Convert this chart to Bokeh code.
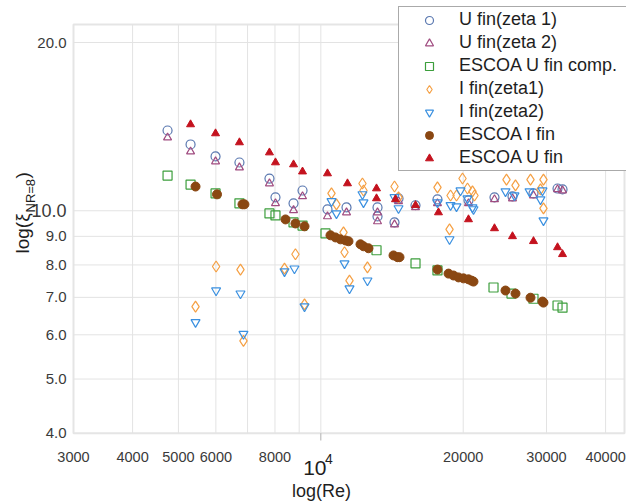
import math
from bokeh.plotting import figure
from bokeh.models import Range1d, Legend, LegendItem, Label, BoxAnnotation
from bokeh.core.properties import value
from bokeh.embed import file_html
from bokeh.resources import INLINE

# ---------------- data ----------------
# U fin(zeta 1)
re_u1 = [4742, 5304, 5990, 6729, 7788, 8019, 8756, 9148, 10330, 11332, 13178, 13178,
         14315, 14597, 15856, 17645, 20521, 23290, 25423, 28159, 31656, 32434]
xi_u1 = [13.92, 13.14, 12.51, 12.20, 11.42, 10.57, 10.31, 10.87, 10.06, 10.14, 10.14, 9.77,
         9.53, 10.52, 10.23, 10.48, 10.44, 10.57, 10.61, 10.74, 10.96, 10.92]
# U fin(zeta 2)
re_u2 = [4742, 5304, 5990, 6729, 7788, 8019, 8756, 9148, 10330, 11332, 13178, 13178,
         14315, 14597, 15856, 17645, 20521, 23290, 25423, 28159, 31656, 32434]
xi_u2 = [13.52, 12.76, 12.25, 11.95, 11.19, 10.31, 10.02, 10.61, 9.77, 9.93, 9.93, 9.57,
         9.45, 10.40, 10.14, 10.31, 10.31, 10.48, 10.52, 10.65, 10.92, 10.87]
# ESCOA U fin comp.
re_uc = [4742, 5304, 5990, 6729, 7788, 8019, 8756, 9148, 10230, 13114, 15856, 17645,
         23179, 25299, 28159, 31656, 32434]
xi_uc = [11.56, 11.14, 10.74, 10.31, 9.89, 9.81, 9.53, 9.41, 9.11, 8.50, 8.05, 7.82,
         7.29, 7.11, 6.96, 6.77, 6.71]
# I fin(zeta1)
re_i1 = [5434, 6006, 6763, 6862, 8379, 8838, 9237, 10533, 10791, 11168, 11222, 11498,
         12247, 12308, 12549, 14315, 14597, 17645, 18712, 18804, 19358, 19932, 20423,
         20924, 21130, 24691, 25797, 27752, 29561, 29134, 29561]
xi_i1 = [6.74, 7.95, 7.85, 5.85, 7.88, 8.36, 6.80, 10.74, 10.27, 9.15, 8.43, 7.50,
         11.19, 10.87, 7.92, 11.05, 10.57, 11.01, 9.26, 10.65, 10.65, 11.42, 10.96,
         10.83, 10.65, 11.37, 11.10, 11.37, 11.37, 10.92, 10.10]
# I fin(zeta2)
re_i2 = [5434, 6006, 6763, 6862, 8379, 8795, 9237, 10533, 10791, 11222, 11498, 12247,
         12308, 12549, 14315, 14597, 17645, 18712, 18804, 19358, 19738, 20423, 20924,
         21027, 24571, 25670, 27617, 29134, 29420, 29561]
xi_i2 = [6.32, 7.20, 7.11, 6.02, 7.79, 7.88, 6.74, 10.40, 9.89, 8.05, 7.26, 10.70,
         10.35, 7.50, 10.57, 10.10, 10.35, 8.89, 10.23, 10.18, 10.87, 10.52, 10.14,
         10.06, 10.83, 10.65, 10.83, 10.48, 10.87, 9.61]
# ESCOA I fin
re_ei = [5434, 6033, 6829, 6895, 8420, 8838, 9237, 10482, 10739, 11005, 11277, 11442,
         12130, 12308, 12611, 14245, 14526, 14667, 17645, 18621, 19078, 19548, 20028,
         20521, 20824, 21027, 24571, 25797, 27752, 29420, 29561]
xi_ei = [11.05, 10.70, 10.27, 10.27, 9.65, 9.49, 9.38, 9.04, 8.96, 8.89, 8.85, 8.82,
         8.71, 8.64, 8.57, 8.32, 8.26, 8.26, 7.85, 7.72, 7.66, 7.60, 7.57,
         7.54, 7.50, 7.47, 7.20, 7.11, 6.99, 6.88, 6.85]
# ESCOA U fin
re_eu = [5304, 5990, 6729, 7788, 8019, 8756, 9148, 10330, 11386, 13114, 13114, 14384,
         15856, 17731, 20521, 23290, 25423, 28159, 31656, 32434]
xi_eu = [14.27, 13.75, 13.25, 12.71, 12.20, 12.10, 11.75, 11.66, 11.19, 10.96, 10.52, 10.48,
         10.23, 9.93, 9.65, 9.30, 9.00, 8.82, 8.60, 8.36]

x_tick_vals = [3000, 4000, 5000, 6000, 8000, 20000, 30000, 40000]
x_tick_text = ["3000", "4000", "5000", "6000", "8000", "20000", "30000", "40000"]
x_decade = 10000
y_tick_vals = [4, 5, 6, 7, 8, 9, 20]
y_tick_text = ["4.0", "5.0", "6.0", "7.0", "8.0", "9.0", "20.0"]
y_decade = 10
x_grid = [4000, 5000, 6000, 7000, 8000, 9000, 10000, 20000, 30000, 40000]
y_grid = [5, 6, 7, 8, 9, 10, 20]

# ---------------- layout (pixels of the 626x504 canvas) ----------------
W, H = 626, 504
FL, FR, FT, FB = 73, 624, 24, 433          # visible plot box
X0, Y0, Y1 = 3000.0, 4.0, 20.0            # x at FL, y at FB, y of the top grid line
PX_DEC_X = 473.0                          # pixels per decade (x)
PY_20, PX_DEC_Y = 42.0, 559.0             # pixel row of y = 20, pixels per decade (y)

def xdat(px):
    return X0 * 10 ** ((px - FL) / PX_DEC_X)

def ydat(py):
    return Y1 * 10 ** (-(py - PY_20) / PX_DEC_Y)

X_END = xdat(FR)
Y_TOP = ydat(FT)

FONT = "Liberation Sans"
TICK_COL = "#3a3a3a"
TITLE_COL = "#1e1e1e"

p = figure(width=W, height=H, x_axis_type="log", y_axis_type="log",
           x_range=Range1d(xdat(0), xdat(W)), y_range=Range1d(ydat(H), ydat(0)),
           x_axis_location=None, y_axis_location=None,
           output_backend="svg", toolbar_location=None, min_border=0)
p.outline_line_color = None
p.grid.visible = False
p.background_fill_color = "white"

# grid lines inside the plot box
p.segment(x0=x_grid, y0=[Y0] * len(x_grid), x1=x_grid, y1=[Y_TOP] * len(x_grid),
          line_color="#e3e3e3", line_width=1)
p.segment(x0=[X0] * len(y_grid), y0=y_grid, x1=[X_END] * len(y_grid), y1=y_grid,
          line_color="#e3e3e3", line_width=1)
# little tick under the decade
p.segment(x0=[x_decade], y0=[Y0], x1=[x_decade], y1=[ydat(FB + 7)],
          line_color="#b0b0b0", line_width=1)

# plot box outline
p.add_layout(BoxAnnotation(left=X0, right=X_END, bottom=Y0, top=Y_TOP,
                           fill_alpha=0, line_color="#a8a8a8", line_width=2,
                           level="underlay"))

# ---------------- data marks ----------------
C_U1, C_U2, C_UC, C_I1, C_I2, C_EI, C_EU = ("#5a78b0", "#a04c80", "#3c9e3c", "#f5a044",
                                            "#3a90e0", "#8a4712", "#c4121e")
r_u1 = p.scatter(re_u1, xi_u1, marker="circle", size=9, fill_color=None,
                 line_color=C_U1, line_width=1.2)
r_u2 = p.scatter(re_u2, xi_u2, marker="triangle", size=8, fill_color=None,
                 line_color=C_U2, line_width=1.2)
r_uc = p.scatter(re_uc, xi_uc, marker="square", size=9, fill_color=None,
                 line_color=C_UC, line_width=1.2)
r_i1 = p.scatter(re_i1, xi_i1, marker="diamond", size=11, fill_color=None,
                 line_color=C_I1, line_width=1.2)
r_i2 = p.scatter(re_i2, xi_i2, marker="inverted_triangle", size=9, fill_color=None,
                 line_color=C_I2, line_width=1.2)
r_ei = p.scatter(re_ei, xi_ei, marker="circle", size=9, fill_color=C_EI,
                 line_color=C_EI, line_width=1)
r_eu = p.scatter(re_eu, xi_eu, marker="triangle", size=8, fill_color=C_EU,
                 line_color=C_EU, line_width=1)

# ---------------- tick labels ----------------
p.text(x=x_tick_vals, y=[Y0] * len(x_tick_vals), text=x_tick_text, y_offset=24,
       text_font=value(FONT), text_font_size="14.5px", text_color=TICK_COL,
       text_align="center", text_baseline="middle")
p.text(x=[x_decade], y=[Y0], text=["10"], x_offset=-6, y_offset=35,
       text_font=value(FONT), text_font_size="21px", text_color=TITLE_COL,
       text_align="center", text_baseline="middle")
p.text(x=[x_decade], y=[Y0], text=["4"], x_offset=8, y_offset=26,
       text_font=value(FONT), text_font_size="14px", text_color=TITLE_COL,
       text_align="center", text_baseline="middle")
p.text(x=[X0] * len(y_tick_vals), y=y_tick_vals, text=y_tick_text, x_offset=-7,
       text_font=value(FONT), text_font_size="15px", text_color=TICK_COL,
       text_align="right", text_baseline="middle")
p.text(x=[X0], y=[y_decade], text=["10.0"], x_offset=-7,
       text_font=value(FONT), text_font_size="18px", text_color=TICK_COL,
       text_align="right", text_baseline="middle")

# ---------------- axis titles ----------------
def lab(text, sx, sy, size, align="center", angle=0.0):
    p.add_layout(Label(x=sx, y=H - sy, x_units="screen", y_units="screen", text=text,
                       text_font=FONT, text_font_size=size, text_color=TITLE_COL,
                       text_align=align, text_baseline="middle", angle=angle))

lab("log(Re)", 321, 490, "18px")
lab("log(\u03be", 22, 253, "19px", align="left", angle=math.pi / 2)
lab("NR=8", 30, 212, "13px", align="left", angle=math.pi / 2)
lab(")", 22, 178, "19px", align="left", angle=math.pi / 2)

# ---------------- legend ----------------
legend = Legend(items=[
    LegendItem(label="U fin(zeta 1)", renderers=[r_u1]),
    LegendItem(label="U fin(zeta 2)", renderers=[r_u2]),
    LegendItem(label="ESCOA U fin comp.", renderers=[r_uc]),
    LegendItem(label="I fin(zeta1)", renderers=[r_i1]),
    LegendItem(label="I fin(zeta2)", renderers=[r_i2]),
    LegendItem(label="ESCOA I fin", renderers=[r_ei]),
    LegendItem(label="ESCOA U fin", renderers=[r_eu]),
], location=(398, H - 171))
legend.label_text_font = FONT
legend.label_text_font_size = "18px"
legend.label_text_color = TITLE_COL
legend.glyph_width = 56
legend.glyph_height = 20
legend.label_height = 20
legend.label_width = 165
legend.label_standoff = 2
legend.spacing = 2
legend.padding = 2
legend.margin = 0
legend.border_line_color = "#555555"
legend.border_line_width = 1.5
legend.background_fill_alpha = 1
p.add_layout(legend)

open("out.html", "w").write(file_html(p, INLINE))
